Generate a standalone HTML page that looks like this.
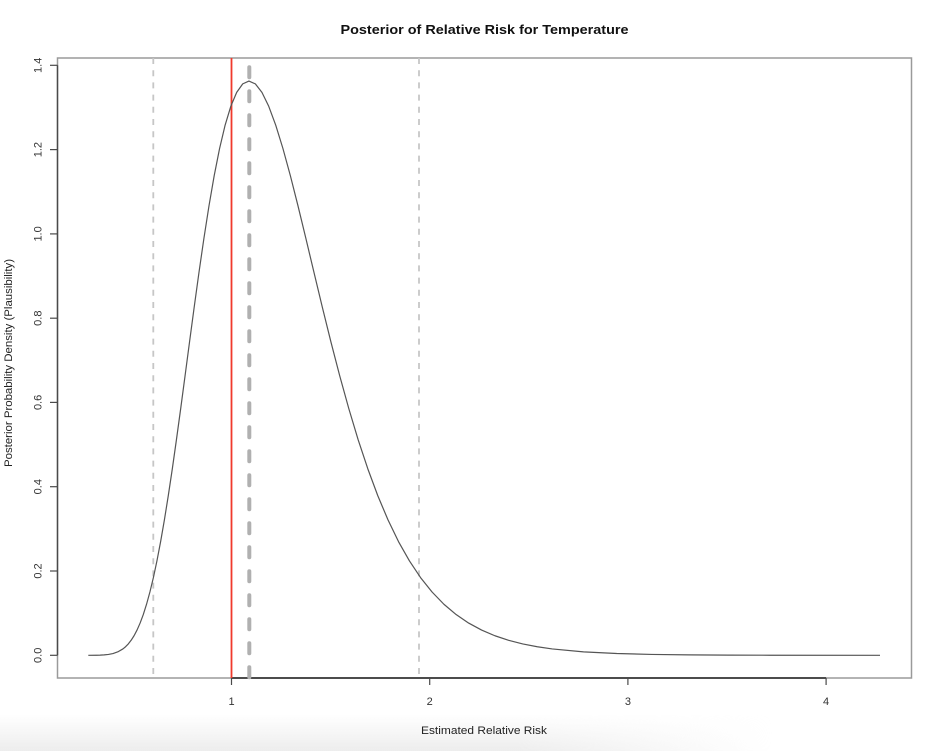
<!DOCTYPE html>
<html>
<head>
<meta charset="utf-8">
<style>
  html, body { margin: 0; padding: 0; background: #ffffff; }
  body { width: 942px; height: 751px; position: relative; overflow: hidden; }
  svg { position: absolute; left: 0; top: 0; }
  .shade {
    position: absolute; left: 0; top: 714px; width: 942px; height: 37px;
    background: linear-gradient(to bottom, rgba(235,235,235,0) 0%, rgba(237,237,237,1) 100%);
    -webkit-mask-image: linear-gradient(to right, #000 0%, #000 55%, rgba(0,0,0,0) 82%);
    mask-image: linear-gradient(to right, #000 0%, #000 55%, rgba(0,0,0,0) 82%);
  }
</style>
</head>
<body>
<div class="shade"></div>
<svg width="942" height="751" viewBox="0 0 942 751" xmlns="http://www.w3.org/2000/svg">
  <!-- plot box -->
  <rect x="57.5" y="58" width="854" height="620" fill="none" stroke="#9a9a9a" stroke-width="1.5"/>

  <!-- left axis -->
  <line x1="57.5" y1="65.3" x2="57.5" y2="655.3" stroke="#4a4a4a" stroke-width="1.4"/>
  <g stroke="#4a4a4a" stroke-width="1.2">
    <line x1="50" y1="655.3" x2="57.5" y2="655.3"/>
    <line x1="50" y1="571.0" x2="57.5" y2="571.0"/>
    <line x1="50" y1="486.7" x2="57.5" y2="486.7"/>
    <line x1="50" y1="402.4" x2="57.5" y2="402.4"/>
    <line x1="50" y1="318.2" x2="57.5" y2="318.2"/>
    <line x1="50" y1="233.9" x2="57.5" y2="233.9"/>
    <line x1="50" y1="149.6" x2="57.5" y2="149.6"/>
    <line x1="50" y1="65.3" x2="57.5" y2="65.3"/>
  </g>
  <g font-family="'Liberation Sans', Arial, sans-serif" font-size="11" fill="#333" text-anchor="middle">
    <text x="41.5" y="655.3" transform="rotate(-90 41.5 655.3)">0.0</text>
    <text x="41.5" y="571.0" transform="rotate(-90 41.5 571.0)">0.2</text>
    <text x="41.5" y="486.7" transform="rotate(-90 41.5 486.7)">0.4</text>
    <text x="41.5" y="402.4" transform="rotate(-90 41.5 402.4)">0.6</text>
    <text x="41.5" y="318.2" transform="rotate(-90 41.5 318.2)">0.8</text>
    <text x="41.5" y="233.9" transform="rotate(-90 41.5 233.9)">1.0</text>
    <text x="41.5" y="149.6" transform="rotate(-90 41.5 149.6)">1.2</text>
    <text x="41.5" y="65.3" transform="rotate(-90 41.5 65.3)">1.4</text>
  </g>

  <!-- bottom axis -->
  <line x1="231.5" y1="678" x2="826.1" y2="678" stroke="#222" stroke-width="1.4"/>
  <g stroke="#4a4a4a" stroke-width="1.2">
    <line x1="231.5" y1="678" x2="231.5" y2="685"/>
    <line x1="429.7" y1="678" x2="429.7" y2="685"/>
    <line x1="627.9" y1="678" x2="627.9" y2="685"/>
    <line x1="826.1" y1="678" x2="826.1" y2="685"/>
  </g>
  <g font-family="'Liberation Sans', Arial, sans-serif" font-size="11" fill="#333" text-anchor="middle">
    <text x="231.5" y="705">1</text>
    <text x="429.7" y="705">2</text>
    <text x="627.9" y="705">3</text>
    <text x="826.1" y="705">4</text>
  </g>

  <!-- vertical reference lines -->
  <line x1="153.3" y1="58" x2="153.3" y2="678" stroke="#c6c6c6" stroke-width="1.8" stroke-dasharray="6 6.2"/>
  <line x1="419" y1="58" x2="419" y2="678" stroke="#c6c6c6" stroke-width="1.8" stroke-dasharray="6 6.2"/>
  <line x1="249.3" y1="58" x2="249.3" y2="678" stroke="#b0b0b0" stroke-width="4" stroke-linecap="round" stroke-dasharray="10 14" stroke-dashoffset="14.7"/>
  <line x1="231.5" y1="58" x2="231.5" y2="678" stroke="#f03a2c" stroke-width="1.8"/>

  <!-- density curve -->
  <polyline fill="none" stroke="#555" stroke-width="1.2" stroke-linejoin="round" points="
    88.3,655.3 96.36,655.22 100.16,655.11 104.19,654.88 108.47,654.42 113.00,653.53 117.81,651.87
    122.90,648.92 125.57,646.73 128.31,643.91 131.13,640.30 134.04,635.75 137.03,630.07 140.11,623.07
    143.28,614.53 146.55,604.24 149.91,591.99 153.38,577.58 156.94,560.85
    160.62,541.65 164.40,519.91 168.29,495.63 172.31,468.86 176.43,439.77 180.69,408.61
    185.06,375.77 189.57,341.70 194.22,306.98 198.99,272.27
    203.92,238.29 208.99,205.81 214.20,175.62 219.58,148.50 225.11,125.17 230.81,106.29
    236.68,92.39 242.72,83.88 248.94,81.02 255.35,83.88 261.94,92.39 268.73,106.29
    275.73,125.17 282.93,148.50 290.35,175.62 297.98,205.81 305.84,238.29 313.94,272.27
    322.28,306.98 330.86,341.70 339.70,375.77 348.81,408.61 358.17,439.77 367.83,468.86
    377.76,495.63 388.00,519.91 398.53,541.65 409.39,560.85 420.55,577.58 432.06,591.99
    443.90,604.24 456.11,614.53 468.66,623.07 481.60,630.07 494.91,635.75 508.63,640.30
    522.74,643.91 537.29,646.73 552.25,648.92 583.55,651.87
    616.73,653.53 651.90,654.42 689.21,654.88 728.76,655.11 770.68,655.22 880,655.3"/>

  <!-- titles -->
  <text x="484.5" y="34" font-family="'Liberation Sans', Arial, sans-serif" font-size="13" font-weight="bold" fill="#111" text-anchor="middle" textLength="288" lengthAdjust="spacingAndGlyphs">Posterior of Relative Risk for Temperature</text>
  <text x="484" y="734" font-family="'Liberation Sans', Arial, sans-serif" font-size="11" fill="#222" text-anchor="middle" textLength="126" lengthAdjust="spacingAndGlyphs">Estimated Relative Risk</text>
  <text x="12" y="363" transform="rotate(-90 12 363)" font-family="'Liberation Sans', Arial, sans-serif" font-size="11" fill="#222" text-anchor="middle" textLength="208" lengthAdjust="spacingAndGlyphs">Posterior Probability Density (Plausibility)</text>
</svg>
</body>
</html>
